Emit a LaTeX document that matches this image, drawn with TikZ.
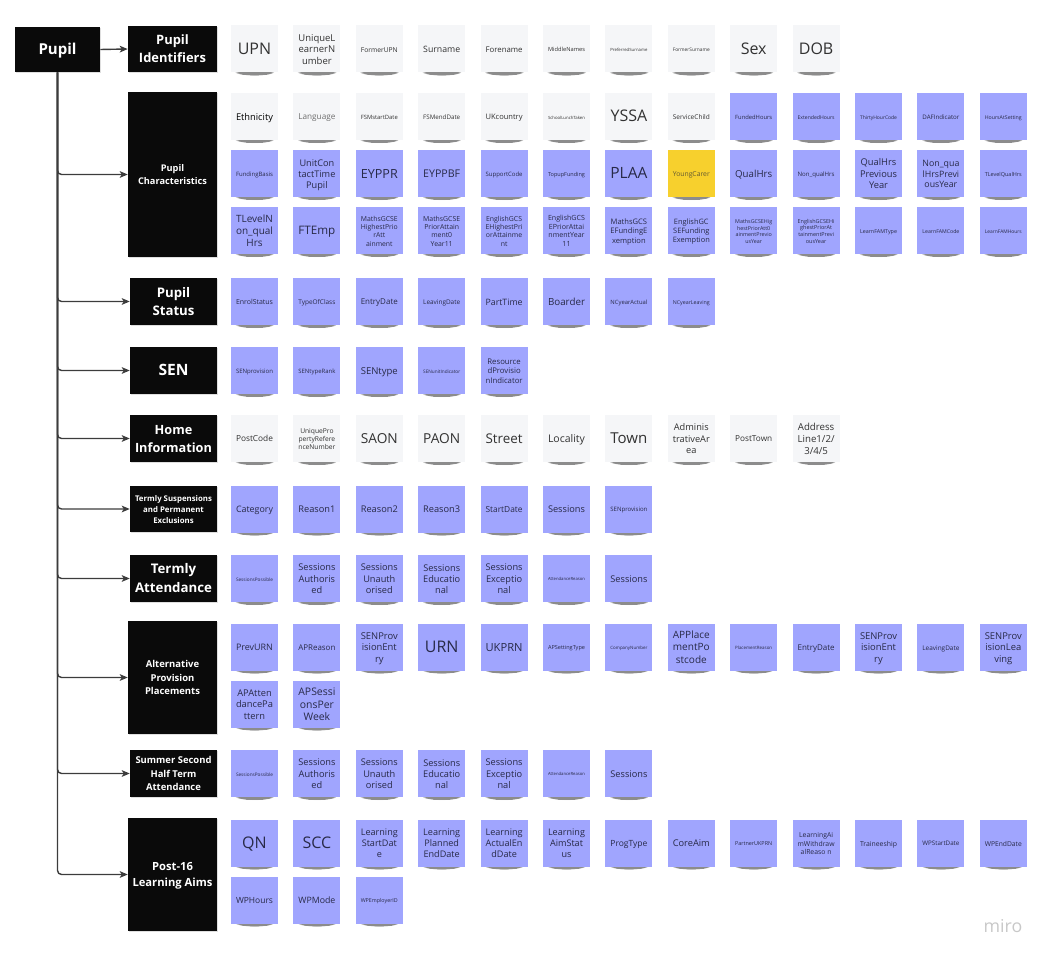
\documentclass[tikz,border=0pt]{standalone}
\usepackage{fontspec}
\setmainfont{Open Sans}
\usepackage{graphicx}
\usetikzlibrary{arrows.meta,shadows,fadings}

% palette
\definecolor{notebl}{RGB}{160,165,254}
\definecolor{notewh}{RGB}{245,246,248}
\definecolor{noteyl}{RGB}{247,208,45}
\definecolor{hdark}{RGB}{10,10,10}
\definecolor{linegr}{RGB}{60,60,60}
\definecolor{inkbl}{RGB}{40,42,72}
\definecolor{inkwh}{RGB}{50,50,50}
\definecolor{inklt}{RGB}{110,110,110}
\definecolor{logogr}{RGB}{200,200,200}

% sticky-note text: set at 12pt, shrink to fit the note width,
% then sit it a little below the optical centre
\newsavebox\notebox
\newsavebox\notefit
\newcommand\fitnote[1]{%
  \sbox\notebox{\fontsize{12}{14.6}\selectfont\begin{tabular}{@{}c@{}}#1\end{tabular}}%
  \ifdim\wd\notebox>27.75pt
    \sbox\notefit{\resizebox{27.75pt}{!}{\usebox\notebox}}%
  \else
    \sbox\notefit{\usebox\notebox}%
  \fi
  \raisebox{0pt}[\dimexpr\ht\notefit+2.2pt\relax][\dp\notefit]{\usebox\notefit}}
% header text: bold, scaled to a given width
\newcommand\fithead[2]{%
  \sbox\notebox{\bfseries\fontsize{12}{16.8}\selectfont\begin{tabular}{@{}c@{}}#2\end{tabular}}%
  \sbox\notefit{\resizebox{#1}{!}{\usebox\notebox}}%
  \raisebox{0pt}[\dimexpr\ht\notefit+1.6pt\relax][\dp\notefit]{\usebox\notefit}}

\tikzset{
  note/.style={rectangle, inner sep=0pt, minimum width=35.25pt, minimum height=35.25pt},
  bnote/.style={note, fill=notebl, text=inkbl},
  wnote/.style={note, fill=notewh, text=inkwh},
  ynote/.style={note, fill=noteyl, text=inkwh!75!noteyl},
  notesh/.style={fill=black, opacity=0.45, path fading=circle with fuzzy edge 20 percent},
  hbox/.style={rectangle, fill=hdark, text=white, inner sep=0pt,
    drop shadow={opacity=0.25, shadow xshift=1pt, shadow yshift=-1pt}},
  conn/.style={draw=linegr, line width=1.05pt, rounded corners=3pt,
    -{Stealth[length=6pt, width=5pt, inset=1.5pt]}},
}

% sticky note: [style]{name}{column}{row centre y}{text}
\newcommand\stick[5][bnote]{%
  \fill[notesh] ({254.5+62.4*#3},{#4+23}) ellipse [x radius=20, y radius=3.6];
  \node[#1] (#2) at ({254.5+62.4*#3},#4) {\fitnote{#5}};}

% black group box: {name}{x1}{y1}{x2}{y2}{text width}{text}
\newcommand\hd[7]{%
  \node[hbox, minimum width={(#4-#2)*0.75pt}, minimum height={(#5-#3)*0.75pt}]
    (#1) at ({(#2+#4)/2},{(#3+#5)/2}) {\fithead{#6}{#7}};}

\begin{document}
\begin{tikzpicture}[x=0.75pt, y=-0.75pt]
\path[use as bounding box] (0,0) rectangle (1046,955);

% ---------- group boxes ----------
\hd{pupil}{15}{27}{100}{72}{28.5pt}{Pupil}
\hd{ident}{128}{26}{217}{72}{50.25pt}{Pupil\\Identifiers}
\hd{char}{128}{92}{217}{257}{51.75pt}{Pupil\\Characteristics}
\hd{status}{130}{278}{217}{325}{31.5pt}{Pupil\\Status}
\hd{sen}{130}{347}{217}{394}{22.5pt}{SEN}
\hd{home}{130}{415}{217}{462}{57.75pt}{Home\\Information}
\hd{susp}{130}{486}{217}{532}{57.75pt}{Termly Suspensions\\and Permanent\\Exclusions}
\hd{att}{130}{555}{217}{602}{57.75pt}{Termly\\Attendance}
\hd{ap}{128}{621}{217}{734}{41.25pt}{Alternative\\Provision\\Placements}
\hd{summer}{130}{750}{217}{797}{57pt}{Summer Second\\Half Term\\Attendance}
\hd{post}{128}{818}{217}{931}{60pt}{Post-16\\Learning Aims}

% ---------- connectors ----------
\draw[conn] (pupil.east) -- (ident.west);
\foreach \t in {char,status,sen,home,susp,att,ap,summer,post}
  \draw[conn] (pupil.south) |- (\t.west);

% ---------- Pupil Identifiers ----------
\stick[wnote]{id0}{0}{49}{UPN}
\stick[wnote]{id1}{1}{49}{UniqueL\\earnerN\\umber}
\stick[wnote]{id2}{2}{49}{FormerUPN}
\stick[wnote]{id3}{3}{49}{Surname}
\stick[wnote]{id4}{4}{49}{Forename}
\stick[wnote]{id5}{5}{49}{MiddleNames}
\stick[wnote]{id6}{6}{49}{PreferredSurname}
\stick[wnote]{id7}{7}{49}{FormerSurname}
\stick[wnote]{id8}{8}{49}{Sex}
\stick[wnote]{id9}{9}{49}{DOB}

% ---------- Pupil Characteristics ----------
\stick[wnote,text=black]{ca0}{0}{116.5}{Ethnicity}
\stick[wnote,text=inklt]{ca1}{1}{116.5}{Language}
\stick[wnote]{ca2}{2}{116.5}{FSMstartDate}
\stick[wnote]{ca3}{3}{116.5}{FSMendDate}
\stick[wnote]{ca4}{4}{116.5}{UKcountry}
\stick[wnote]{ca5}{5}{116.5}{SchoolLunchTaken}
\stick[wnote]{ca6}{6}{116.5}{YSSA}
\stick[wnote]{ca7}{7}{116.5}{ServiceChild}
\stick{ca8}{8}{116.5}{FundedHours}
\stick{ca9}{9}{116.5}{ExtendedHours}
\stick{ca10}{10}{116.5}{ThirtyHourCode}
\stick{ca11}{11}{116.5}{DAFIndicator}
\stick{ca12}{12}{116.5}{HoursAtSetting}

\stick{cb0}{0}{173.5}{FundingBasis}
\stick{cb1}{1}{173.5}{UnitCon\\tactTime\\Pupil}
\stick{cb2}{2}{173.5}{EYPPR}
\stick{cb3}{3}{173.5}{EYPPBF}
\stick{cb4}{4}{173.5}{SupportCode}
\stick{cb5}{5}{173.5}{TopupFunding}
\stick{cb6}{6}{173.5}{PLAA}
\stick[ynote]{cb7}{7}{173.5}{YoungCarer}
\stick{cb8}{8}{173.5}{QualHrs}
\stick{cb9}{9}{173.5}{Non\_qualHrs}
\stick{cb10}{10}{173.5}{QualHrs\\Previous\\Year}
\stick{cb11}{11}{173.5}{Non\_qua\\lHrsPrevi\\ousYear}
\stick{cb12}{12}{173.5}{TLevelQualHrs}

\stick{cc0}{0}{230.5}{TLevelN\\on\_qual\\Hrs}
\stick{cc1}{1}{230.5}{FTEmp}
\stick{cc2}{2}{230.5}{MathsGCSE\\HighestPrio\\rAtt\\ainment}
\stick{cc3}{3}{230.5}{MathsGCSE\\PriorAttain\\ment0\\Year11}
\stick{cc4}{4}{230.5}{EnglishGCS\\EHighestPri\\orAttainme\\nt}
\stick{cc5}{5}{230.5}{EnglishGCS\\EPriorAttai\\nmentYear\\11}
\stick{cc6}{6}{230.5}{MathsGCS\\EFundingE\\xemption}
\stick{cc7}{7}{230.5}{EnglishGC\\SEFunding\\Exemption}
\stick{cc8}{8}{230.5}{MathsGCSEHig\\hestPriorAtt0\\ainmentPrevio\\usYear}
\stick{cc9}{9}{230.5}{EnglishGCSEHi\\ghestPriorAt\\tainmentPrevi\\ousYear}
\stick{cc10}{10}{230.5}{LearnFAMType}
\stick{cc11}{11}{230.5}{LearnFAMCode}
\stick{cc12}{12}{230.5}{LearnFAMHours}

% ---------- Pupil Status ----------
\stick{st0}{0}{301.5}{EnrolStatus}
\stick{st1}{1}{301.5}{TypeOfClass}
\stick{st2}{2}{301.5}{EntryDate}
\stick{st3}{3}{301.5}{LeavingDate}
\stick{st4}{4}{301.5}{PartTime}
\stick{st5}{5}{301.5}{Boarder}
\stick{st6}{6}{301.5}{NCyearActual}
\stick{st7}{7}{301.5}{NCyearLeaving}

% ---------- SEN ----------
\stick{se0}{0}{370.5}{SENprovision}
\stick{se1}{1}{370.5}{SENtypeRank}
\stick{se2}{2}{370.5}{SENtype}
\stick{se3}{3}{370.5}{SENunitIndicator}
\stick{se4}{4}{370.5}{Resource\\dProvisio\\nIndicator}

% ---------- Home Information ----------
\stick[wnote]{ho0}{0}{438.5}{PostCode}
\stick[wnote]{ho1}{1}{438.5}{UniquePro\\pertyRefere\\nceNumber}
\stick[wnote]{ho2}{2}{438.5}{SAON}
\stick[wnote]{ho3}{3}{438.5}{PAON}
\stick[wnote]{ho4}{4}{438.5}{Street}
\stick[wnote]{ho5}{5}{438.5}{Locality}
\stick[wnote]{ho6}{6}{438.5}{Town}
\stick[wnote]{ho7}{7}{438.5}{Adminis\\trativeAr\\ea}
\stick[wnote]{ho8}{8}{438.5}{PostTown}
\stick[wnote]{ho9}{9}{438.5}{Address\\Line1/2/\\3/4/5}

% ---------- Termly Suspensions and Permanent Exclusions ----------
\stick{su0}{0}{509}{Category}
\stick{su1}{1}{509}{Reason1}
\stick{su2}{2}{509}{Reason2}
\stick{su3}{3}{509}{Reason3}
\stick{su4}{4}{509}{StartDate}
\stick{su5}{5}{509}{Sessions}
\stick{su6}{6}{509}{SENprovision}

% ---------- Termly Attendance ----------
\stick{at0}{0}{578.5}{SessionsPossible}
\stick{at1}{1}{578.5}{Sessions\\Authoris\\ed}
\stick{at2}{2}{578.5}{Sessions\\Unauth\\orised}
\stick{at3}{3}{578.5}{Sessions\\Educatio\\nal}
\stick{at4}{4}{578.5}{Sessions\\Exceptio\\nal}
\stick{at5}{5}{578.5}{AttendanceReason}
\stick{at6}{6}{578.5}{Sessions}

% ---------- Alternative Provision Placements ----------
\stick{ap0}{0}{647}{PrevURN}
\stick{ap1}{1}{647}{APReason}
\stick{ap2}{2}{647}{SENProv\\isionEnt\\ry}
\stick{ap3}{3}{647}{URN}
\stick{ap4}{4}{647}{UKPRN}
\stick{ap5}{5}{647}{APSettingType}
\stick{ap6}{6}{647}{CompanyNumber}
\stick{ap7}{7}{647}{APPlace\\mentPo\\stcode}
\stick{ap8}{8}{647}{PlacementReason}
\stick{ap9}{9}{647}{EntryDate}
\stick{ap10}{10}{647}{SENProv\\isionEnt\\ry}
\stick{ap11}{11}{647}{LeavingDate}
\stick{ap12}{12}{647}{SENProv\\isionLea\\ving}
\stick{aq0}{0}{704}{APAtten\\dancePa\\ttern}
\stick{aq1}{1}{704}{APSessi\\onsPer\\Week}

% ---------- Summer Second Half Term Attendance ----------
\stick{sm0}{0}{773.5}{SessionsPossible}
\stick{sm1}{1}{773.5}{Sessions\\Authoris\\ed}
\stick{sm2}{2}{773.5}{Sessions\\Unauth\\orised}
\stick{sm3}{3}{773.5}{Sessions\\Educatio\\nal}
\stick{sm4}{4}{773.5}{Sessions\\Exceptio\\nal}
\stick{sm5}{5}{773.5}{AttendanceReason}
\stick{sm6}{6}{773.5}{Sessions}

% ---------- Post-16 Learning Aims ----------
\stick{pa0}{0}{843}{QN}
\stick{pa1}{1}{843}{SCC}
\stick{pa2}{2}{843}{Learning\\StartDat\\e}
\stick{pa3}{3}{843}{Learning\\Planned\\EndDate}
\stick{pa4}{4}{843}{Learning\\ActualEn\\dDate}
\stick{pa5}{5}{843}{Learning\\AimStat\\us}
\stick{pa6}{6}{843}{ProgType}
\stick{pa7}{7}{843}{CoreAim}
\stick{pa8}{8}{843}{PartnerUKPRN}
\stick{pa9}{9}{843}{LearningAi\\mWithdraw\\alReaso n}
\stick{pa10}{10}{843}{Traineeship}
\stick{pa11}{11}{843}{WPStartDate}
\stick{pa12}{12}{843}{WPEndDate}
\stick{pb0}{0}{900}{WPHours}
\stick{pb1}{1}{900}{WPMode}
\stick{pb2}{2}{900}{WPEmployerID}

% ---------- board logo ----------
\node[text=logogr, inner sep=0pt] (logo) at (1003,926)
  {\resizebox{29pt}{!}{\fontsize{12}{14}\selectfont miro}};
\end{tikzpicture}
\end{document}
